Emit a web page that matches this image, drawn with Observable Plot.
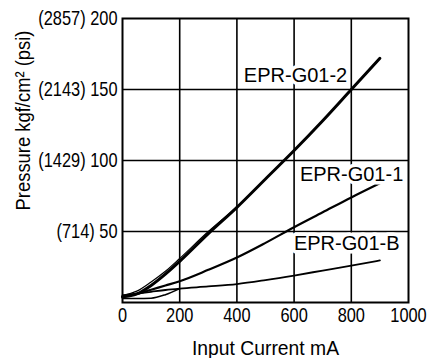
<!DOCTYPE html>
<html>
<head>
<meta charset="utf-8">
<script src="https://cdn.jsdelivr.net/npm/d3@7"></script>
<script src="https://cdn.jsdelivr.net/npm/@observablehq/plot@0.6"></script>
<style>
  html, body { margin: 0; padding: 0; background: #fff; }
  #chart svg { display: block; }
</style>
</head>
<body>
<div id="chart"></div>
<script>
const current = [0, 50, 100, 150, 200, 300, 400, 500, 600, 700, 800, 900];
const g012 = [4, 6, 12, 20, 29, 48.5, 67, 87, 107, 128, 150, 172];
const g012Return = [5, 8, 14.5, 22, 31, 50, 67];
const g011 = [4, 6, 9, 12, 15, 23, 31.7, 42, 53, 63.5, 74, 84];
const g01b = [5, 6.2, 7.5, 8.8, 9.8, 11.3, 13, 15.8, 19, 22.5, 26, 29.6];
const g01bReturn = [2.8, 2.8, 3, 5.5, 9.8];

const yTicks = [50, 100, 150, 200];
const yTickLabels = ["(714) 50", "(1429) 100", "(2143) 150", "(2857) 200"];
const xTicks = [0, 200, 400, 600, 800, 1000];
const xTitle = "Input Current mA";
const yTitle = "Pressure kgf/cm² (psi)";

const labels = [
  {name: "EPR-G01-2", x: 605, y: 160},
  {name: "EPR-G01-1", x: 801, y: 90},
  {name: "EPR-G01-B", x: 784, y: 41.5}
];

const mk = (ys, series) => ys.map((y, i) => ({x: current[i], y, series}));
const d2 = mk(g012, "EPR-G01-2");
const d2r = mk(g012Return, "EPR-G01-2 return");
const d1 = mk(g011, "EPR-G01-1");
const db = mk(g01b, "EPR-G01-B");
const dbr = mk(g01bReturn, "EPR-G01-B return");

const font = "'Liberation Sans', Arial, Helvetica, sans-serif";

const chart = Plot.plot({
  width: 429,
  height: 358,
  marginLeft: 122,
  marginRight: 21,
  marginTop: 18,
  marginBottom: 56,
  style: {fontFamily: font, fontSize: "20px", color: "#000", background: "#fff"},
  x: {domain: [0, 1000]},
  y: {domain: [0, 200]},
  marks: [
    Plot.gridX([200, 400, 600, 800], {stroke: "#000", strokeOpacity: 1, strokeWidth: 1.6}),
    Plot.gridY([50, 100, 150], {stroke: "#000", strokeOpacity: 1, strokeWidth: 1.6}),
    Plot.frame({stroke: "#000", strokeWidth: 2}),
    Plot.line(d2r, {x: "x", y: "y", curve: "monotone-x", stroke: "#000", strokeWidth: 1.2}),
    Plot.line(d2, {x: "x", y: "y", curve: "monotone-x", stroke: "#000", strokeWidth: 3}),
    Plot.line(d1, {x: "x", y: "y", curve: "monotone-x", stroke: "#000", strokeWidth: 2.2}),
    Plot.line(dbr, {x: "x", y: "y", curve: "monotone-x", stroke: "#000", strokeWidth: 1.6}),
    Plot.line(db, {x: "x", y: "y", curve: "monotone-x", stroke: "#000", strokeWidth: 1.8}),
    Plot.text(labels, {x: "x", y: "y", text: "name", fontFamily: font, fontSize: 20, fill: "#000", stroke: "#fff", strokeWidth: 7, paintOrder: "stroke"}),
    Plot.axisX({ticks: xTicks, tickSize: 0, tickPadding: 5, fontSize: 21, tickFormat: d3.format("d"), label: xTitle, labelAnchor: "center", labelArrow: "none", labelOffset: 52}),
    Plot.axisY({ticks: yTicks, tickSize: 0, tickPadding: 5, fontSize: 21, tickFormat: (d) => yTickLabels[yTicks.indexOf(d)], label: null}),
    Plot.text([yTitle], {frameAnchor: "left", text: (d) => d, rotate: -90, dx: -99, dy: -40, fontSize: 20, fill: "#000", textAnchor: "middle"})
  ]
});
document.getElementById("chart").appendChild(chart);

// condense tick labels and titles to mimic the condensed typeface of the reference
const squeeze = (el, f) => {
  const len = el.getComputedTextLength();
  if (len > 0) {
    el.setAttribute("textLength", (len * f).toFixed(1));
    el.setAttribute("lengthAdjust", "spacingAndGlyphs");
  }
};
chart.querySelectorAll('g[aria-label="x-axis tick label"] text, g[aria-label="y-axis tick label"] text').forEach((t) => squeeze(t, 0.78));
chart.querySelectorAll("text").forEach((t) => {
  if (t.textContent === xTitle || t.textContent === yTitle) squeeze(t, 0.92);
});
</script>
</body>
</html>
